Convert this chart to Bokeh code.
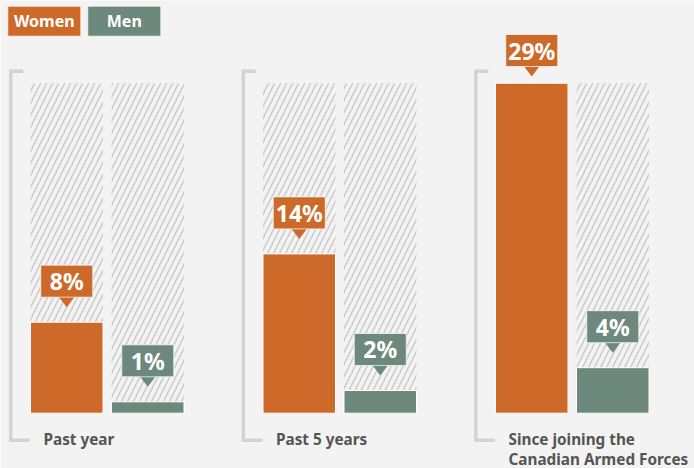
from bokeh.plotting import figure
from bokeh.models import Range1d
from bokeh.embed import file_html
from bokeh.resources import INLINE
from bokeh.core.properties import value

# ---------------- data ----------------
periods = ["Past year", "Past 5 years", "Since joining the\nCanadian Armed Forces"]
series = ["Women", "Men"]
women = [8, 14, 29]
men = [1, 2, 4]
women_labels = ["8%", "14%", "29%"]
men_labels = ["1%", "2%", "4%"]

# ---------------- style / layout ----------------
W, H = 694, 468
BG = "#f3f3f3"
C_WOMEN = "#cd6a29"
C_MEN = "#6d887c"
C_TEXT = "#555555"
C_BRACKET = "#d3d3d3"
C_HATCH = "#cccccc"
FONT = "Noto Sans"

BASE_PX = 412.7      # screen y of value 0
TOP_PX = 82.7        # screen y of maximum value
G0 = 30.0            # left of first bar
STEP = 232.5         # group spacing
BAR_W = 72.5
PAIR_OFF = 81.0      # offset of second bar in group

vmax = max(women + men)
k = (BASE_PX - TOP_PX) / vmax          # px per percent


def ydata(px):
    return (BASE_PX - px) / k


def dh(px):
    return px / k


p = figure(width=W, height=H, output_backend="svg", toolbar_location=None,
           x_range=Range1d(0, W), y_range=Range1d(ydata(H), ydata(0)),
           min_border=0, background_fill_color=BG, border_fill_color=BG,
           outline_line_color=None)
p.axis.visible = False
p.grid.visible = False

n = len(periods)
w_x = [G0 + i * STEP + BAR_W / 2 for i in range(n)]
m_x = [G0 + i * STEP + PAIR_OFF + BAR_W / 2 for i in range(n)]

# hatched "full" background bars
p.vbar(x=w_x + m_x, top=[vmax] * (2 * n), bottom=0, width=BAR_W,
       fill_alpha=0, line_color=None, hatch_pattern="/", hatch_color=C_HATCH,
       hatch_scale=12, hatch_weight=1.6)

# value bars
p.vbar(x=w_x, top=women, bottom=0, width=BAR_W, fill_color=C_WOMEN,
       line_color="white", line_width=1)
p.vbar(x=m_x, top=men, bottom=0, width=BAR_W, fill_color=C_MEN,
       line_color="white", line_width=1)

# brackets
bx, by = [], []
for i in range(n):
    x0 = G0 + i * STEP - 19.7
    bx.append([x0 + 12.5, x0, x0, x0 + 19])
    by.append([ydata(70.8), ydata(70.8), ydata(439.8), ydata(439.8)])
p.multi_line(xs=bx, ys=by, line_color=C_BRACKET, line_width=3.5, line_join="miter")

# category labels (one text per line)
lx, ly, lt = [], [], []
for i, name in enumerate(periods):
    for j, line in enumerate(name.split("\n")):
        lx.append(G0 + i * STEP + 13)
        ly.append(ydata(438.3 + 20 * j))
        lt.append(line)
p.text(x=lx, y=ly, text=lt, text_font=value(FONT), text_font_style="bold",
       text_font_size="15.3px", text_color=C_TEXT, text_baseline="middle",
       text_align="left")

# callouts
BOX_W, BOX_H, TIP_H, TIP_HW = 52, 32, 10, 8


def callouts(xs, vals, labels, color):
    rx, ry, tx, ty = [], [], [], []
    for x, v in zip(xs, vals):
        top_px = BASE_PX - v * k
        bottom_px = max(top_px - 25, 66)
        rx.append(x)
        ry.append(ydata(bottom_px - BOX_H / 2))
        tx.append([x - TIP_HW, x + TIP_HW, x])
        ty.append([ydata(bottom_px - 0.5), ydata(bottom_px - 0.5), ydata(bottom_px + TIP_H)])
    p.patches(xs=tx, ys=ty, fill_color=color, line_color=None)
    p.rect(x=rx, y=ry, width=BOX_W, height=dh(BOX_H), fill_color=color,
           line_color="#ffffff", line_alpha=0.7, line_width=1)
    p.text(x=rx, y=ry, text=labels, text_font=value(FONT), text_font_style="bold",
           text_font_size="23px", text_color="white", text_align="center",
           text_baseline="middle")


callouts(w_x, women, women_labels, C_WOMEN)
callouts(m_x, men, men_labels, C_MEN)

# legend boxes
LEG_W, LEG_H = 73, 30
leg_x = [7.3 + LEG_W / 2, 87.3 + LEG_W / 2]
leg_y = [ydata(20.7)] * 2
p.rect(x=leg_x, y=leg_y, width=LEG_W, height=dh(LEG_H), fill_color=[C_WOMEN, C_MEN],
       line_color="#ffffff", line_alpha=0.7, line_width=1)
p.text(x=leg_x, y=leg_y, text=series, text_font=value(FONT), text_font_style="bold",
       text_font_size="16px", text_color="white", text_align="center",
       text_baseline="middle")

open("out.html", "w").write(file_html(p, INLINE))
